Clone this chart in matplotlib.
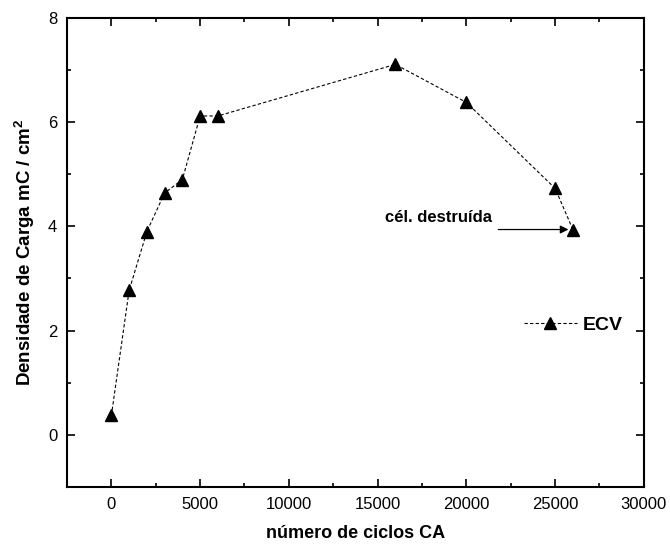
import matplotlib.pyplot as plt
from matplotlib.ticker import MultipleLocator

plt.rcParams['font.family'] = ['Liberation Sans', 'DejaVu Sans']
plt.rcParams['mathtext.fontset'] = 'custom'
plt.rcParams['mathtext.rm'] = 'Liberation Sans'
plt.rcParams['mathtext.bf'] = 'Liberation Sans:bold'

# data
ciclos = [0, 1000, 2000, 3000, 4000, 5000, 6000, 16000, 20000, 25000, 26000]
carga = [0.37, 2.77, 3.90, 4.64, 4.90, 6.12, 6.12, 7.11, 6.38, 4.73, 3.94]

fig = plt.figure(figsize=(6.70, 5.47), dpi=100)
ax = fig.add_axes([0.100, 0.110, 0.861, 0.857])

ax.plot(ciclos, carga, color="black", linestyle=(0, (3, 2)), linewidth=0.8,
        marker="^", markersize=9, markerfacecolor="black",
        markeredgecolor="black", label="ECV")

# horizontal arrow pointing to the last point, label above its tail
ax.annotate("", xy=(25750, 3.94), xytext=(21800, 3.94),
            arrowprops=dict(arrowstyle="-|>", color="black", lw=0.9,
                            shrinkA=0, shrinkB=0, mutation_scale=12))
ax.text(15400, 4.17, "cél. destruída", fontsize=12, fontweight="bold",
        ha="left", va="center")

ax.set_xlim(-2500, 30000)
ax.set_ylim(-1, 8)
ax.xaxis.set_major_locator(MultipleLocator(5000))
ax.xaxis.set_minor_locator(MultipleLocator(2500))
ax.yaxis.set_major_locator(MultipleLocator(2))
ax.yaxis.set_minor_locator(MultipleLocator(1))
ax.tick_params(which="both", direction="in", top=True, right=True,
               width=1.2, labelsize=12)
ax.tick_params(which="major", length=6, pad=7)
ax.tick_params(which="minor", length=3)
for s in ax.spines.values():
    s.set_linewidth(1.5)

ax.set_xlabel("número de ciclos CA", fontsize=13, fontweight="bold", labelpad=10)
ax.set_ylabel(r"Densidade de Carga mC / cm$^{\mathbf{2}}$", fontsize=13.5,
              fontweight="bold", labelpad=8)

leg = ax.legend(loc="center left", bbox_to_anchor=(0.762, 0.345), frameon=False,
                handlelength=2.7, handletextpad=0.3, prop=dict(size=14, weight="bold"))

fig.savefig("out.png", dpi=100)
